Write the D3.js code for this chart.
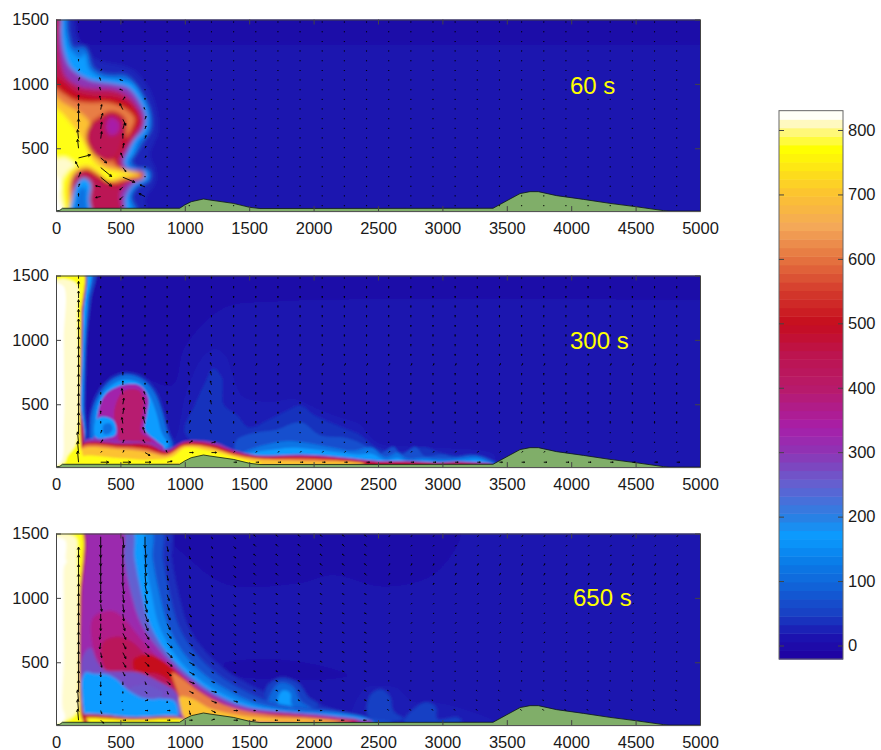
<!DOCTYPE html>
<html>
<head>
<meta charset="utf-8">
<title>plume</title>
<style>
body { margin: 0; background: #fff; }
svg { display: block; }
text { font-family: "Liberation Sans", Arial, sans-serif; }
.tick text { font-size: 16.5px; fill: #1a1a1a; }
.domain, .tick line { stroke: #444; stroke-width: 1; }
.vec { stroke: #000; stroke-width: 0.9; fill: none; }
.stamp { font-size: 24px; fill: #ffff00; }
</style>
</head>
<body>
<script src="https://cdnjs.cloudflare.com/ajax/libs/d3/7.8.5/d3.min.js"></script>
<script>
var xTicks = [0, 500, 1000, 1500, 2000, 2500, 3000, 3500, 4000, 4500, 5000];
var yTicks = [500, 1000, 1500];
var barTicks = [0, 100, 200, 300, 400, 500, 600, 700, 800];
var stamps = ["60 s", "300 s", "650 s"];

// colour bar stops
var colourLevels = [-21, 15, 50, 100, 130, 170, 200, 250, 300, 340, 400, 450, 500, 550, 600, 650, 700, 770, 795, 810, 818, 830];
var colourHex = ["#2000a0", "#1c14b0", "#1840c4", "#1068dc", "#0a7ce8", "#0a9cff", "#2a80e4", "#6460d0", "#8e34b4", "#a81ea8", "#b81a6a", "#bc1450", "#c60d1e", "#d43a2c", "#e5733f", "#f4a858", "#fcc232", "#ffff00", "#fff870", "#fff9c0", "#fffff0", "#ffffff"];

// ground height along the section
var groundX = [0, 30, 50, 960, 1000, 1050, 1145, 1195, 1376, 1505, 1583, 3393, 3525, 3603, 3680, 3745, 3887, 4095, 4300, 4495, 4715, 4760, 5000];
var groundY = [14, 18, 34, 34, 60, 85, 106, 98, 72, 41, 32, 34, 106, 148, 163, 163, 132, 103, 72, 47, 16, 12, 12];

// isotherm outlines, warmest painted later: [level, outline]
var field60 = [
  [-3, [[-100,1600],[2000,1600],[5200,1600],[5200,1600],[5200,1305],[5200,1305],[3000,1305],[1000,1305],[-100,1305],[-100,1305]]],
  [30, [[120,1550],[170,1350],[300,1200],[580,1120],[700,1000],[780,800],[790,620],[730,450],[770,340],[770,230],[700,120],[680,-20],[-50,-20],[-50,1550]]],
  [110, [[70,1550],[95,1400],[135,1280],[225,1285],[290,1120],[400,1070],[550,1060],[640,950],[725,800],[735,650],[680,560],[630,480],[585,400],[630,345],[725,325],[725,255],[630,200],[585,120],[625,30],[625,-20],[-50,-20],[-50,1550]]],
  [170, [[55,1550],[75,1400],[110,1270],[190,1200],[225,1240],[260,1110],[350,1050],[500,1030],[600,1000],[680,880],[720,750],[700,620],[640,560],[600,450],[560,400],[570,350],[700,330],[715,260],[620,210],[570,130],[590,20],[590,-20],[-50,-20],[-50,1550]]],
  [300, [[30,1550],[40,1400],[60,1250],[110,1130],[200,1060],[300,1020],[450,1000],[560,970],[650,860],[695,750],[675,640],[610,570],[560,470],[530,390],[560,340],[680,320],[680,270],[600,220],[540,120],[540,20],[540,-20],[-50,-20],[-50,1550]]],
  [440, [[15,1550],[20,1300],[40,1150],[80,1050],[180,980],[300,960],[450,950],[560,900],[640,800],[670,700],[620,600],[550,500],[500,400],[530,340],[680,310],[680,270],[560,230],[500,150],[500,-20],[-50,-20],[-50,1550]]],
  [500, [[-50,1080],[50,1020],[150,940],[300,905],[450,900],[570,850],[640,770],[650,700],[600,620],[530,530],[470,420],[530,330],[680,305],[680,270],[560,240],[450,200],[340,250],[200,320],[120,280],[120,-20],[-50,-20]]],
  [610, [[-50,990],[50,930],[150,870],[250,855],[400,855],[530,810],[610,730],[590,660],[500,500],[450,400],[530,320],[670,300],[670,280],[560,260],[450,230],[340,280],[230,340],[130,290],[120,-20],[-50,-20]]],
  [700, [[-50,920],[60,850],[130,810],[220,750],[270,680],[300,540],[320,440],[380,370],[500,340],[650,300],[650,285],[520,265],[420,240],[340,290],[240,340],[150,300],[110,200],[100,-20],[-50,-20]]],
  [775, [[-50,830],[40,780],[110,700],[170,620],[230,520],[270,430],[330,360],[450,320],[600,295],[500,280],[400,250],[340,310],[240,370],[130,320],[90,200],[80,-20],[-50,-20]]],
  [812, [[-50,450],[0,420],[60,430],[120,400],[150,370],[100,330],[40,230],[50,100],[60,-20],[-50,-20]]],
  [830, [[-50,240],[10,280],[40,200],[20,130],[50,20],[50,-20],[-50,-20]]],
  [170, [[110,-20],[125,100],[150,200],[210,270],[270,230],[260,100],[270,-20]]],
  [110, [[150,-20],[160,100],[190,190],[230,190],[235,100],[240,-20]]],
  [500, [[330,740],[430,790],[530,740],[545,620],[530,520],[480,440],[420,400],[320,430],[250,520],[235,600],[270,690]]],
  [440, [[340,720],[430,770],[520,720],[530,620],[510,540],[480,460],[430,420],[330,440],[270,520],[250,600],[280,680]]],
  [340, [[420,740],[490,700],[480,620],[420,600],[390,660]]]
];

var field300 = [
  [-3, [[-100,1600],[5200,1600],[5200,1600],[5200,1310],[5200,1310],[3000,1320],[1700,1300],[1300,1250],[1000,950],[900,650],[600,720],[350,500],[250,300],[200,1000]]],
  [24, [[950,300],[1000,560],[1050,700],[1150,880],[1240,930],[1320,870],[1380,700],[1450,560],[1650,520],[1850,540],[2020,470],[2200,400],[2350,350],[2500,200],[2800,170],[3400,110],[3400,40],[900,100]]],
  [38, [[1000,280],[1080,500],[1150,650],[1220,780],[1290,700],[1300,500],[1400,420],[1500,320],[1650,380],[1750,430],[1900,490],[2000,420],[2200,330],[2350,270],[2500,160],[2700,130],[2850,170],[3000,120],[3400,60],[3400,35],[1300,100]]],
  [70, [[1400,220],[1550,280],[1700,300],[1900,360],[2050,260],[2250,240],[2400,180],[2500,110],[2620,170],[2680,110],[2790,170],[2860,100],[3000,110],[3100,90],[3210,110],[3330,90],[3420,40],[3000,30],[2000,50],[1400,120]]],
  [120, [[1430,120],[1600,180],[1800,215],[1950,200],[2150,165],[2300,140],[2450,165],[2560,90],[2650,125],[2720,80],[2850,85],[3000,75],[3150,85],[3270,95],[3370,55],[3400,38],[2000,60],[1400,110]]],
  [170, [[1500,115],[1700,150],[1850,165],[2000,150],[2200,125],[2350,110],[2450,115],[2560,65],[2650,85],[2720,60],[2850,65],[3000,55],[3150,65],[3270,72],[3370,45],[3400,36],[2000,60]]],
  [40, [[240,200],[260,430],[310,580],[410,700],[530,750],[670,720],[780,610],[840,450],[880,300],[920,170],[800,150],[240,150]]],
  [110, [[265,200],[275,420],[325,560],[420,680],[530,730],[660,700],[760,600],[820,450],[860,300],[900,170],[800,150],[260,150]]],
  [170, [[300,250],[310,450],[360,580],[450,660],[530,690],[640,670],[720,580],[780,430],[820,280],[870,170],[300,170]]],
  [330, [[340,494],[393,585],[522,649],[652,644],[717,546],[704,416],[690,300],[780,215],[840,160],[300,160],[310,300]]],
  [395, [[450,430],[520,600],[640,610],[680,540],[670,400],[660,280],[740,215],[500,190],[480,300]]],
  [170, [[310,240],[300,350],[340,400],[400,400],[450,370],[470,310],[460,260],[400,240]]],
  [110, [[370,270],[370,340],[420,350],[440,310],[410,270]]],
  [300, [[200,210],[500,215],[750,200],[860,150],[1000,215],[1230,205],[1380,145],[1560,105],[1900,110],[2100,100],[2300,80],[2500,60],[2700,60],[3000,48],[3100,55],[3380,40],[3400,30],[200,30]]],
  [440, [[200,190],[500,195],[720,190],[860,135],[1000,205],[1220,190],[1380,135],[1560,98],[1900,100],[2100,92],[2300,72],[2500,52],[2700,53],[3000,45],[3100,52],[3300,40],[3380,36],[200,30]]],
  [500, [[200,178],[500,183],[700,175],[860,125],[1000,195],[1220,180],[1380,125],[1560,90],[1900,90],[2200,75],[2400,50],[2800,40],[3000,35],[200,30]]],
  [610, [[200,170],[500,170],[700,155],[860,115],[1000,185],[1200,170],[1380,115],[1560,82],[1900,78],[2200,65],[2400,42],[200,30]]],
  [700, [[200,150],[500,150],[700,130],[860,100],[1000,175],[1200,160],[1380,105],[1560,75],[1900,60],[2300,50],[2400,35],[200,30]]],
  [775, [[200,90],[500,80],[700,70],[900,90],[1000,160],[1180,140],[1380,90],[1500,60],[1600,40],[1000,40],[200,35]]],
  [60, [[-50,1550],[300,1550],[270,1300],[240,1000],[225,500],[215,200],[-50,200]]],
  [170, [[-50,1550],[265,1550],[245,1300],[225,1000],[210,500],[205,200],[-50,200]]],
  [440, [[-50,1550],[215,1550],[210,1200],[200,800],[192,500],[200,175],[-50,175]]],
  [775, [[-50,1550],[205,1550],[195,1200],[190,800],[185,500],[195,170],[205,30],[-50,-20]]],
  [812, [[-50,1440],[155,1440],[165,1200],[172,800],[168,300],[150,180],[90,100],[60,40],[-50,20]]],
  [830, [[-50,1420],[55,1420],[60,1000],[65,500],[60,300],[55,100],[30,40],[-50,30]]]
];

var field650 = [
  [-3, [[850,1550],[3130,1550],[2950,1200],[2550,1090],[2150,1180],[1900,1120],[1350,1100],[1100,1250]]],
  [-3, [[1300,480],[1700,520],[2100,460],[2260,400],[2100,370],[1700,370],[1350,410]]],
  [22, [[2400,300],[2500,320],[2650,300],[2760,200],[3000,180],[3300,90],[3400,40],[2300,40]]],
  [35, [[880,1550],[900,1304],[950,1045],[1020,800],[1130,620],[1330,430],[1540,310],[1700,240],[1950,200],[2300,90],[2500,40],[2500,-20],[-50,-20],[-50,1550]]],
  [50, [[2437,240],[2520,290],[2590,240],[2620,120],[2700,60],[2500,40],[2420,90]]],
  [50, [[2820,170],[2890,190],[2950,150],[2960,60],[3120,70],[3150,40],[2700,35]]],
  [50, [[1630,300],[1740,380],[1880,340],[1960,230],[2040,170],[1900,110],[1650,150]]],
  [100, [[1660,240],[1740,340],[1840,310],[1900,200],[2000,130],[1850,110],[1650,160]]],
  [170, [[1720,200],[1760,280],[1820,260],[1830,170],[1960,120],[1800,110]]],
  [70, [[810,1550],[830,1304],[880,1045],[950,786],[1070,590],[1250,410],[1460,280],[1670,190],[1900,150],[2200,120],[2450,60],[2600,30],[2600,-20],[-50,-20],[-50,1550]]],
  [130, [[730,1550],[750,1304],[800,1045],[870,786],[990,570],[1170,390],[1380,260],[1580,175],[1880,130],[2210,105],[2440,55],[2500,-20],[-50,-20],[-50,1550]]],
  [170, [[660,1550],[690,1304],[740,1045],[800,786],[930,553],[1110,372],[1320,243],[1532,165],[1842,114],[2230,90],[2430,50],[2480,-20],[-50,-20],[-50,1550]]],
  [250, [[580,1550],[610,1304],[660,1045],[730,790],[860,575],[1050,385],[1270,240],[1490,155],[1820,110],[2150,85],[2400,45],[2450,-20],[-50,-20],[-50,1550]]],
  [320, [[510,1550],[530,1304],[580,1045],[660,800],[800,600],[1000,400],[1230,240],[1450,150],[1800,110],[2100,85],[2350,50],[2450,40],[2450,-20],[-50,-20],[-50,1550]]],
  [370, [[290,850],[430,900],[520,850],[620,730],[760,570],[950,390],[1200,235],[1430,135],[1800,100],[2100,75],[2350,45],[2300,20],[1600,30],[1100,100],[900,250],[800,300],[500,360],[350,450],[280,650]]],
  [430, [[360,650],[480,700],[590,660],[700,560],[860,470],[1000,370],[1200,225],[1450,125],[1800,95],[2100,68],[2350,44],[2300,20],[1600,30],[1100,100],[900,250],[800,300],[500,380],[380,450]]],
  [500, [[600,520],[720,560],[850,500],[1000,370],[1200,210],[1450,115],[1800,85],[2100,60],[2330,40],[1800,40],[1100,100],[950,250],[900,340],[780,410],[620,420]]],
  [610, [[900,420],[1000,360],[1100,280],[1300,170],[1600,100],[2000,70],[2300,38],[1800,36],[1300,40],[1000,60],[970,150],[950,250]]],
  [700, [[960,230],[1050,220],[1200,140],[1450,85],[1700,65],[2000,55],[2200,35],[1500,35],[1050,40],[980,100]]],
  [270, [[215,70],[215,560],[270,610],[320,510],[380,440],[500,430],[650,420],[800,350],[930,270],[960,180],[960,70]]],
  [170, [[225,70],[225,420],[300,410],[400,405],[480,360],[540,300],[620,250],[800,220],[920,200],[950,120],[940,70]]],
  [260, [[574,295],[703,321],[833,256],[781,217],[652,230]]],
  [500, [[190,85],[600,72],[960,72],[985,40],[190,30]]],
  [775, [[190,55],[600,52],[1000,50],[1000,32],[190,30]]],
  [480, [[-50,1550],[200,1550],[198,1000],[190,500],[215,100],[230,70],[250,30],[-50,-20]]],
  [775, [[-50,1550],[186,1550],[184,1000],[180,500],[195,80],[210,30],[-50,-20]]],
  [812, [[-50,1470],[150,1470],[165,1300],[175,800],[170,300],[165,120],[100,60],[-50,30]]],
  [830, [[-50,1450],[70,1450],[75,1300],[85,1280],[65,1250],[60,1000],[60,500],[50,150],[70,80],[50,30],[-50,30]]]
];

// wind arrows: columns and rows of the grid, [u, v] listed bottom to top
var windX = [175, 347, 519, 691, 863, 1035, 1207, 1379, 1551, 1723, 1895, 2067, 2239, 2411, 2583, 2755, 2927, 3099, 3271, 3443, 3615, 3787, 3959, 4131, 4303, 4475, 4647, 4819];
var windY = [50, 125, 200, 275, 350, 425, 500, 575, 650, 725, 800, 875, 950, 1025, 1100, 1175, 1250, 1325, 1400, 1475];

var calm = [[0,1],[0,1],[0,1],[0,1],[0,1],[0,1],[0,1],[0,1],[0,1],[0,1],[0,1],[0,1],[0,1],[0,1],[0,1],[0,1],[0,1],[0,1],[0,1],[0,1]];
var calmUp = [[3,0],[1,1],[0,1],[0,1],[0,2],[0,2],[0,2],[0,2],[0,2],[0,2],[1,2],[0,2],[0,2],[0,2],[0,2],[0,2],[0,2],[0,2],[0,2],[0,1]];
var drift = [[-3,0],[-2,0],[-2,1],[-2,1],[-2,1],[-2,1],[-2,1],[-2,1],[-2,1],[-2,1],[-2,1],[-2,1],[-2,1],[-2,1],[-2,2],[-2,2],[-2,2],[-2,2],[-2,2],[-2,2]];
var driftFar = [[0,0],[-1,1],[-1,1],[-1,1],[0,1],[0,1],[0,1],[0,1],[1,1],[1,1],[1,1],[1,1],[1,1],[1,1],[1,2],[1,2],[1,2],[1,1],[1,1],[1,1]];

var wind60 = [
  [[0,2],[0,3],[1,3],[2,5],[-3,6],[12,3],[-1,9],[-1,9],[0,10],[0,9],[0,6],[0,5],[0,3],[1,3],[1,2],[0,2],[0,1],[0,1],[0,1],[0,1]],
  [[0,0],[-5,-1],[-5,1],[11,-9],[11,-9],[6,-5],[0,1],[1,7],[1,7],[2,6],[1,5],[-1,4],[-1,3],[-1,3],[1,2],[1,1],[0,1],[0,1],[0,1],[0,1]],
  [[0,1],[-3,-3],[-3,-3],[12,-5],[3,-4],[-2,5],[1,5],[0,5],[2,6],[3,-6],[-3,6],[2,3],[-3,1],[-3,1],[0,1],[0,1],[0,1],[0,1],[0,1],[0,1]],
  [[0,1],[-6,3],[-5,2],[0,1],[0,1],[1,2],[1,2],[1,3],[1,3],[1,3],[-1,2],[0,2],[0,1],[0,1],[0,1],[0,1],[0,1],[0,1],[0,1],[0,1]]
];
var wind300 = [
  [[-1,11],[-1,11],[-1,11],[0,11],[0,11],[0,11],[0,11],[0,11],[0,11],[0,11],[0,11],[0,10],[0,10],[0,10],[0,8],[0,8],[0,8],[0,7],[0,7],[0,5]],
  [[8,0],[1,1],[2,3],[1,3],[0,2],[0,3],[0,3],[0,2],[0,2],[0,2],[0,2],[0,2],[0,2],[0,2],[0,2],[0,2],[0,2],[0,2],[0,2],[0,2]],
  [[8,0],[1,2],[1,3],[-1,5],[-1,6],[1,6],[1,6],[-1,6],[0,4],[0,3],[0,2],[0,2],[0,2],[0,2],[0,2],[0,2],[0,2],[0,2],[0,2],[0,2]],
  [[6,0],[5,-3],[-2,3],[-2,6],[-2,7],[-1,7],[-2,7],[-1,3],[0,2],[0,2],[0,2],[0,2],[0,2],[0,2],[0,2],[0,2],[0,2],[0,2],[0,2],[0,2]],
  [[5,1],[-1,2],[0,2],[0,2],[0,3],[0,3],[0,3],[0,3],[-1,3],[0,2],[0,2],[0,2],[0,2],[0,2],[0,2],[0,2],[0,2],[0,2],[0,2],[0,2]],
  [[0,0],[4,0],[3,2],[1,3],[1,3],[1,3],[1,4],[0,4],[0,4],[-1,3],[-1,3],[0,2],[0,2],[0,2],[0,2],[0,2],[0,2],[0,2],[0,2],[0,2]],
  [[0,0],[5,0],[4,1],[-1,3],[-2,4],[-2,4],[-1,4],[-2,4],[-1,4],[-1,4],[-1,3],[-1,3],[0,2],[0,2],[0,2],[0,2],[0,2],[0,2],[0,2],[0,2]]
];
var wind650 = [
  [[-1,11],[-1,11],[-1,11],[0,11],[0,11],[0,11],[0,11],[0,11],[0,11],[0,11],[0,11],[0,11],[0,11],[0,11],[0,11],[0,11],[0,11],[0,9],[0,0],[0,0]],
  [[3,-3],[1,-3],[0,-3],[0,-4],[0,-5],[0,-5],[1,-5],[1,-5],[-1,-6],[-1,-6],[0,-7],[0,-7],[1,-7],[0,-8],[0,-9],[0,-9],[0,-10],[0,-10],[0,-11],[0,-11]],
  [[3,0],[0,1],[-1,-1],[0,-2],[0,-3],[2,-4],[3,-5],[3,-6],[3,-6],[3,-6],[2,-7],[1,-7],[1,-8],[1,-8],[1,-9],[0,-10],[0,-10],[0,-11],[0,-11],[1,-11]],
  [[3,0],[3,0],[3,1],[2,-2],[1,-3],[3,-3],[4,-4],[4,-4],[4,-5],[4,-6],[3,-7],[3,-8],[2,-8],[2,-9],[2,-9],[1,-10],[1,-10],[1,-11],[1,-11],[0,-11]],
  [[3,0],[3,0],[0,-2],[1,-3],[3,-3],[4,-4],[5,-4],[5,-5],[5,-5],[4,-5],[3,-6],[3,-6],[2,-6],[2,-6],[1,-5],[1,-5],[1,-5],[1,-5],[1,-5],[1,-4]],
  [[3,0],[1,-4],[1,-4],[4,-2],[5,-2],[5,-3],[5,-3],[5,-3],[3,-3],[2,-3],[2,-3],[2,-3],[1,-3],[1,-3],[1,-3],[1,-3],[1,-3],[1,-3],[1,-3],[1,-2]],
  [[3,1],[4,-2],[5,-2],[5,-1],[3,-1],[2,-1],[2,-2],[2,-2],[2,-2],[2,-2],[2,-2],[2,-2],[2,-2],[1,-2],[1,-2],[1,-2],[1,-2],[1,-2],[1,-2],[1,-2]],
  [[4,0],[4,0],[4,-1],[3,-1],[2,-1],[2,-1],[2,-1],[2,-2],[2,-2],[2,-2],[2,-2],[2,-2],[2,-2],[2,-2],[2,-2],[2,-2],[2,-2],[2,-2],[2,-2],[2,-2]]
];

var width = 881, height = 750;
var panelTops = [19.5, 275.5, 533.5];
var fields = [field60, field300, field650];
var winds = [wind60, wind300, wind650];
var farWinds = [calm, calmUp, drift];
var softness = [2, 1.2, 1.6];
var stampX = [570, 570, 573];
var stampY = [94, 349, 606];

var colour = d3.scaleLinear().domain(colourLevels).range(colourHex);

var svg = d3.select("body").append("svg")
  .attr("width", width)
  .attr("height", height);

var defs = svg.append("defs");

var x = d3.scaleLinear().domain([0, 5000]).range([56, 700]);
var speed = d3.scaleLinear().domain([0, 10]).range([0, 10]);

panelTops.forEach(function (top, p) {
  var y = d3.scaleLinear().domain([12, 1500]).range([top + 191.6, top]);
  var g = svg.append("g");

  defs.append("filter").attr("id", "soft" + p)
    .attr("filterUnits", "userSpaceOnUse")
    .attr("x", 0).attr("y", 0).attr("width", width).attr("height", height)
    .append("feGaussianBlur").attr("stdDeviation", softness[p]);
  defs.append("clipPath").attr("id", "clip" + p).append("rect")
    .attr("x", x(0)).attr("y", top).attr("width", x(5000) - x(0)).attr("height", 191.6);

  var plot = g.append("g").attr("clip-path", "url(#clip" + p + ")");
  var soft = plot.append("g").attr("filter", "url(#soft" + p + ")");

  soft.append("rect")
    .attr("x", x(-100)).attr("y", y(1600))
    .attr("width", x(5200) - x(-100)).attr("height", y(-100) - y(1600))
    .attr("fill", colour(12));

  var outline = d3.line()
    .x(function (d) { return x(d[0]); })
    .y(function (d) { return y(d[1]); })
    .curve(d3.curveCatmullRomClosed.alpha(0.5));

  soft.selectAll("path.iso").data(fields[p]).enter().append("path")
    .attr("class", "iso")
    .attr("d", function (d) { return outline(d[1]); })
    .attr("fill", function (d) { return colour(d[0]); });

  // ground
  var ground = d3.area()
    .x(function (d) { return x(d); })
    .y0(y(12))
    .y1(function (d, i) { return y(groundY[i]); });
  plot.append("path").attr("d", ground(groundX)).attr("fill", "#80ae69");
  plot.append("path")
    .attr("d", d3.line().x(function (d) { return x(d); }).y(function (d, i) { return y(groundY[i]); })(groundX))
    .attr("fill", "none").attr("stroke", "#0d1a10").attr("stroke-width", 0.8);

  // wind
  windX.forEach(function (wx, c) {
    var col = winds[p][c] || farWinds[p];
    if (p === 2 && c >= 14) col = driftFar;
    windY.forEach(function (wy, r) {
      var u = speed(col[r][0]), v = speed(col[r][1]);
      if (u === 0 && v === 0) return;
      var x0 = x(wx), y0 = y(wy), x1 = x0 + u, y1 = y0 - v;
      var len = Math.sqrt(u * u + v * v), hx = u / len, hy = -v / len, s = Math.min(2.6, len * 0.3);
      plot.append("path").attr("class", "vec")
        .attr("d", "M" + x0 + "," + y0 + "L" + x1 + "," + y1 +
          "M" + (x1 - s * (hx + 0.5 * hy)) + "," + (y1 - s * (hy - 0.5 * hx)) + "L" + x1 + "," + y1 +
          "L" + (x1 - s * (hx - 0.5 * hy)) + "," + (y1 - s * (hy + 0.5 * hx)));
    });
  });

  g.append("text").attr("class", "stamp")
    .attr("x", stampX[p]).attr("y", stampY[p]).text(stamps[p]);

  // axes with ticks pointing in, mirrored on the far sides
  g.append("g").attr("transform", "translate(0," + y(12) + ")")
    .call(d3.axisBottom(x).tickValues(xTicks).tickSizeInner(-5).tickSizeOuter(0).tickPadding(11).tickFormat(d3.format("d")));
  g.append("g").attr("transform", "translate(0," + top + ")")
    .call(d3.axisTop(x).tickValues(xTicks).tickSizeInner(-5).tickSizeOuter(0).tickFormat(""));
  g.append("g").attr("transform", "translate(" + x(0) + ",0)")
    .call(d3.axisLeft(y).tickValues(yTicks).tickSizeInner(-5).tickSizeOuter(0).tickPadding(7).tickFormat(d3.format("d")));
  g.append("g").attr("transform", "translate(" + x(5000) + ",0)")
    .call(d3.axisRight(y).tickValues(yTicks).tickSizeInner(-5).tickSizeOuter(0).tickFormat(""));
});

// colour bar
var barY = d3.scaleLinear().domain([0, 800]).range([645.5, 130]);
var barLeft = 779, barRight = 843;
var bandStep = 851 / 64;
var bands = d3.range(64).map(function (i) { return -21 + i * bandStep; });

svg.append("g").selectAll("rect").data(bands).enter().append("rect")
  .attr("x", barLeft)
  .attr("width", barRight - barLeft)
  .attr("y", function (d) { return barY(d + bandStep); })
  .attr("height", barY(0) - barY(bandStep) + 0.5)
  .attr("fill", function (d) { return colour(d + bandStep / 2); });

svg.append("rect")
  .attr("x", barLeft).attr("y", barY(830))
  .attr("width", barRight - barLeft).attr("height", barY(-21) - barY(830))
  .attr("fill", "none").attr("stroke", "#666");

svg.append("g").attr("transform", "translate(" + barRight + ",0)")
  .call(d3.axisRight(barY).tickValues(barTicks).tickSizeInner(-5).tickSizeOuter(0).tickPadding(5).tickFormat(d3.format("d")))
  .select(".domain").remove();
svg.append("g").attr("transform", "translate(" + barLeft + ",0)")
  .call(d3.axisLeft(barY).tickValues(barTicks).tickSizeInner(-5).tickSizeOuter(0).tickFormat(""))
  .select(".domain").remove();
</script>
</body>
</html>
